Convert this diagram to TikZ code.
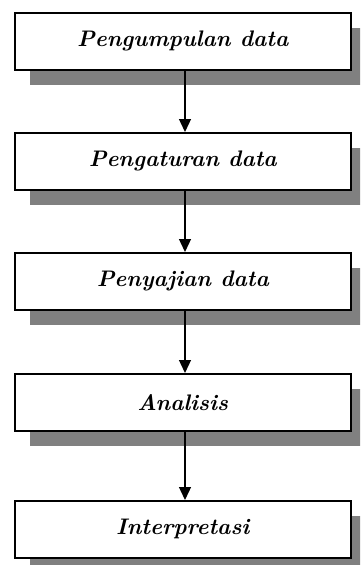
\documentclass[tikz,border=0pt]{standalone}
\usepackage{fontspec}
\setmainfont{Latin Modern Roman}
\usetikzlibrary{arrows.meta}
\begin{document}
\begin{tikzpicture}[x=1pt,y=-1pt,
  stepbox/.style={draw=black,line width=1.6pt,fill=white,minimum width=336pt,minimum height=57pt,inner sep=0pt,anchor=north west,font=\fontsize{22.5}{26}\selectfont\bfseries\itshape},
  flow/.style={draw=black,line width=1.3pt,-{Triangle[length=13pt,width=12pt]}}]
\useasboundingbox (0,0) rectangle (360,565);
\clip (0,0) rectangle (360,565);
\foreach \t in {12,132,252,373,500}{
  \fill[black!50] (30,\t+16) rectangle (370,\t+73);
}
\node[stepbox] (s1) at (14,12) {Pengumpulan data};
\node[stepbox] (s2) at (14,132) {Pengaturan data};
\node[stepbox] (s3) at (14,252) {Penyajian data};
\node[stepbox] (s4) at (14,373) {Analisis};
\node[stepbox] (s5) at (14,500) {Interpretasi};
\draw[flow] (s1.south -| 185,0) -- (s2.north -| 185,0);
\draw[flow] (s2.south -| 185,0) -- (s3.north -| 185,0);
\draw[flow] (s3.south -| 185,0) -- (s4.north -| 185,0);
\draw[flow] (s4.south -| 185,0) -- (s5.north -| 185,0);
\end{tikzpicture}
\end{document}
